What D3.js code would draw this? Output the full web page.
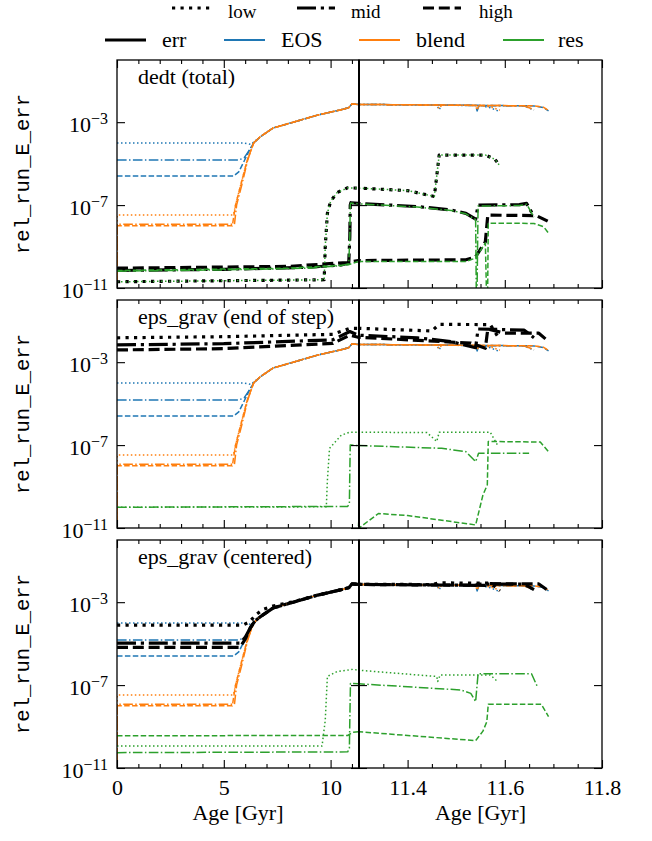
<!DOCTYPE html>
<html><head><meta charset="utf-8">
<script src="https://cdn.jsdelivr.net/npm/d3@7"></script>
<style>body{margin:0;background:#fff}
.serif{font-family:"Liberation Serif","Times New Roman",serif}
.mono{font-family:"Liberation Mono","Courier New",monospace}
</style></head>
<body><svg id="c" width="652" height="841"></svg>
<script>
// ---------- DATA: [age Gyr, rel_run_E_err] ----------
const levels = ["low", "mid", "high"];
const kinds = ["err", "EOS", "blend", "res"];
const xTicksLeft = [0, 5, 10];
const xTicksRight = [11.4, 11.6, 11.8];
const xMinorLeft = [1, 2, 3, 4, 6, 7, 8, 9, 11];
const xMinorRight = [11.35, 11.45, 11.5, 11.55, 11.65, 11.7, 11.75];
const yTicks = [1e-11, 1e-7, 1e-3];
const titles = ["dedt (total)", "eps_grav (end of step)", "eps_grav (centered)"];

// EOS and blend components (same in all three panels)
const eos_low = [[0,1e-4],[5.9,1e-4],[6.25,8.5e-5],[6.45,1.2e-4],[6.7,1.95e-4],[7.3,5.2e-4],[8.25,1e-3],[9.4,2.2e-3],[10.45,3.9e-3],[10.85,5e-3],[11.0,7.6e-3],[11.3,7.2e-3],[11.4,6.9e-3],[11.46,6.7e-3],[11.465,4e-3],[11.47,6.6e-3],[11.55,6.3e-3],[11.57,5e-3],[11.59,3.2e-3]];
const eos_mid = [[0,1.5e-5],[5.7,1.5e-5],[5.95,1.9e-5],[6.2,4.5e-5],[6.4,1e-4],[6.7,1.95e-4],[7.3,5.2e-4],[8.25,1e-3],[9.4,2.2e-3],[10.45,3.9e-3],[10.85,5e-3],[11.0,7.6e-3],[11.3,7.2e-3],[11.4,6.9e-3],[11.5,6.6e-3],[11.54,6.4e-3],[11.543,3.5e-3],[11.547,6.3e-3],[11.64,6.1e-3],[11.66,3.8e-3]];
const eos_high = [[0,2.5e-6],[5.45,2.5e-6],[5.7,4e-6],[5.95,1.3e-5],[6.2,4.5e-5],[6.4,1e-4],[6.7,1.95e-4],[7.3,5.2e-4],[8.25,1e-3],[9.4,2.2e-3],[10.45,3.9e-3],[10.85,5e-3],[11.0,7.6e-3],[11.3,7.2e-3],[11.4,6.9e-3],[11.5,6.6e-3],[11.6,6.3e-3],[11.66,6.1e-3],[11.68,5e-3],[11.69,3.5e-3]];
const blend_low = [[0,1e-13],[0.01,3.3e-8],[5.45,3.3e-8],[5.55,1e-7],[5.8,1e-6],[6.1,1.5e-5],[6.4,1e-4],[6.7,1.95e-4],[7.3,5.2e-4],[8.25,1e-3],[9.4,2.2e-3],[10.45,3.9e-3],[10.85,5e-3],[11.0,7.6e-3],[11.3,7.2e-3],[11.4,6.9e-3],[11.46,6.7e-3],[11.465,4.5e-3],[11.47,6.6e-3],[11.55,6.4e-3],[11.57,5.5e-3],[11.59,3.8e-3]];
const blend_mid = [[0,1e-13],[0.01,1.2e-8],[5.5,1.2e-8],[5.6,1e-7],[5.85,1e-6],[6.12,1.5e-5],[6.4,1e-4],[6.7,1.95e-4],[7.3,5.2e-4],[8.25,1e-3],[9.4,2.2e-3],[10.45,3.9e-3],[10.85,5e-3],[11.0,7.6e-3],[11.3,7.2e-3],[11.4,6.9e-3],[11.5,6.6e-3],[11.54,6.4e-3],[11.543,3.8e-3],[11.547,6.4e-3],[11.64,6.2e-3],[11.66,4e-3]];
const blend_high = [[0,1e-13],[0.01,1e-8],[5.4,1e-8],[5.55,1e-7],[5.8,1e-6],[6.1,1.5e-5],[6.4,1e-4],[6.7,1.95e-4],[7.3,5.2e-4],[8.25,1e-3],[9.4,2.2e-3],[10.45,3.9e-3],[10.85,5e-3],[11.0,7.6e-3],[11.3,7.2e-3],[11.4,6.9e-3],[11.5,6.6e-3],[11.6,6.3e-3],[11.66,6.2e-3],[11.68,5.2e-3],[11.69,3.6e-3]];

// Panel 1: dedt (total)
const errD_low = [[0,2e-11],[9.7,2.5e-11],[9.75,1e-9],[9.85,4e-8],[10.0,1.5e-7],[10.3,4e-7],[10.8,6.8e-7],[11.3,6.6e-7],[11.4,5e-7],[11.455,2.6e-7],[11.465,2.6e-5],[11.56,2.6e-5],[11.58,1.6e-5],[11.59,7.7e-6]];
const errD_mid = [[0,7e-11],[5,8e-11],[9,1e-10],[10.5,1.3e-10],[10.85,1.6e-10],[10.9,3e-9],[10.92,1e-7],[10.95,1.3e-7],[11.3,1.2e-7],[11.42,8.5e-8],[11.49,5.8e-8],[11.52,4e-8],[11.54,2.1e-8],[11.545,1e-7],[11.63,1.05e-7],[11.645,1.2e-7],[11.66,2.8e-8]];
const errD_high = [[0,9e-11],[8,1.1e-10],[10.8,1.7e-10],[11.3,2.1e-10],[11.52,2.3e-10],[11.54,3.2e-10],[11.56,1.7e-9],[11.565,3.3e-8],[11.665,3.1e-8],[11.69,1.6e-8]];
const resD_low = [[0,2e-11],[9.7,2.5e-11],[9.75,1e-9],[9.85,4e-8],[10.0,1.5e-7],[10.3,4e-7],[10.8,6.8e-7],[11.3,6.6e-7],[11.4,5e-7],[11.455,2.6e-7],[11.465,2.6e-5],[11.56,2.6e-5],[11.58,1.6e-5],[11.59,7.7e-6]];
const resD_mid = [[0,6.5e-11],[5,7.5e-11],[9,9e-11],[10.5,1.2e-10],[10.85,1.5e-10],[10.9,3e-9],[10.92,1e-7],[10.95,1.25e-7],[11.3,1.15e-7],[11.42,8e-8],[11.49,5.5e-8],[11.52,3.8e-8],[11.54,2e-8],[11.542,1e-13],[11.545,9e-8],[11.63,9.5e-8],[11.645,1.1e-7],[11.66,2.6e-8]];
const resD_high = [[0,7e-11],[8,9e-11],[10.8,1.3e-10],[11.3,1.9e-10],[11.52,1.9e-10],[11.54,2.8e-10],[11.56,1.5e-9],[11.564,1e-13],[11.566,1.35e-8],[11.66,1.3e-8],[11.68,9e-9],[11.69,4.4e-9]];

// Panel 2: eps_grav (end of step)
const errE_low = [[0,1.5e-2],[5,1.7e-2],[10.1,2.2e-2],[10.9,4.3e-2],[11.3,4.3e-2],[11.45,3.2e-2],[11.465,6.7e-2],[11.57,6.5e-2],[11.59,1.2e-2]];
const errE_mid = [[0,6.8e-3],[5,7.8e-3],[10.1,1.2e-2],[10.9,3e-2],[11.3,2e-2],[11.42,1.5e-2],[11.49,9.8e-3],[11.54,5e-3],[11.545,4e-2],[11.64,3.5e-2],[11.66,1.5e-2]];
const errE_high = [[0,3.9e-3],[5,4.5e-3],[10.1,8e-3],[10.9,2e-2],[11.3,1.6e-2],[11.53,8.3e-3],[11.56,4.7e-3],[11.565,4e-2],[11.6,2.5e-2],[11.67,2.5e-2],[11.69,1e-2]];
const resE_low = [[0,1e-10],[9.8,1.05e-10],[9.85,2e-9],[9.95,7e-8],[10.5,3e-7],[10.9,4.2e-7],[11.3,4.2e-7],[11.44,4e-7],[11.46,1.5e-7],[11.465,4.2e-7],[11.57,4.2e-7],[11.585,1e-7]];
const resE_mid = [[0,1e-10],[10.8,1.1e-10],[10.88,1.5e-10],[10.9,5e-9],[10.92,1e-7],[10.95,1e-7],[11.3,9.5e-8],[11.47,7e-8],[11.52,4.8e-8],[11.54,1.6e-8],[11.546,4e-8],[11.65,4e-8]];
const resE_high = [[0,1e-13],[11.28,1e-13],[11.3,1e-11],[11.34,5e-11],[11.4,4e-11],[11.54,1.4e-11],[11.555,3.9e-10],[11.564,1.2e-9],[11.566,1.5e-7],[11.673,1.4e-7],[11.69,4.8e-8]];

// Panel 3: eps_grav (centered)
const errC_low = [[0,7.9e-5],[5.9,7.9e-5],[6.2,1.1e-4],[6.5,2.5e-4],[6.85,4.5e-4],[7.3,6.5e-4],[8.25,1.05e-3],[9.4,2.2e-3],[10.45,3.9e-3],[10.85,5e-3],[11.0,7.6e-3],[11.3,7.3e-3],[11.45,7.1e-3],[11.465,8.5e-3],[11.57,8.3e-3],[11.585,4.5e-3],[11.59,3.5e-3]];
const errC_mid = [[0,1.05e-5],[5.75,1.05e-5],[6.0,2e-5],[6.25,6e-5],[6.45,1.2e-4],[6.7,1.95e-4],[7.3,5.2e-4],[8.25,1e-3],[9.4,2.2e-3],[10.45,3.9e-3],[10.85,5e-3],[11.0,7.6e-3],[11.3,7.2e-3],[11.54,6.5e-3],[11.545,7.5e-3],[11.64,7.4e-3],[11.66,4e-3]];
const errC_high = [[0,6.6e-6],[5.75,6.6e-6],[6.0,1.6e-5],[6.25,6e-5],[6.45,1.2e-4],[6.7,1.95e-4],[7.3,5.2e-4],[8.25,1e-3],[9.4,2.2e-3],[10.45,3.9e-3],[10.85,5e-3],[11.0,7.6e-3],[11.3,7.2e-3],[11.56,6.5e-3],[11.565,7.8e-3],[11.67,7.6e-3],[11.69,3.5e-3]];
const resC_low = [[0,1.15e-10],[9.6,1.15e-10],[9.75,2e-9],[9.85,2.6e-7],[10.3,4.5e-7],[11.07,5.8e-7],[11.3,5.2e-7],[11.46,2.6e-7],[11.462,1.5e-7],[11.467,3.1e-7],[11.57,3.1e-7],[11.585,1.5e-7]];
const resC_mid = [[0,5.5e-11],[10.8,6e-11],[10.88,9e-11],[10.9,2e-9],[10.93,1.2e-7],[11.3,1.15e-7],[11.51,5.8e-8],[11.53,4e-8],[11.54,1.6e-8],[11.545,3.5e-7],[11.655,3.5e-7],[11.667,8.4e-8]];
const resC_high = [[0,3.6e-10],[10.8,3.7e-10],[11.05,5.3e-10],[11.3,5.6e-10],[11.54,2.1e-10],[11.555,6e-10],[11.563,1.7e-9],[11.566,1.2e-8],[11.675,1.2e-8],[11.69,3e-9]];

// ---------- LAYOUT ----------
const svg = d3.select("#c");
const PH = 228;
const panelTops = [60, 300, 540];
const xL = d3.scaleLinear().domain([0, 11.33]).range([117, 359]);
const xR = d3.scaleLinear().domain([11.3, 11.8]).range([359, 602]);
const colors = {err: "#000000", EOS: "#1f77b4", blend: "#ff7f0e", res: "#2ca02c"};
const dashThin = {low: "1.5,2.5", mid: "9.6,2.4,1.5,2.4", high: "5.5,2.4"};
const dashThick = {low: "3.2,5.3", mid: "19,4.8,3.2,4.8", high: "11,4.8"};
const FS = 22;

const panelData = [
  {err: [errD_low, errD_mid, errD_high], res: [resD_low, resD_mid, resD_high]},
  {err: [errE_low, errE_mid, errE_high], res: [resE_low, resE_mid, resE_high]},
  {err: [errC_low, errC_mid, errC_high], res: [resC_low, resC_mid, resC_high]}
];
const eosSet = [eos_low, eos_mid, eos_high];
const blendSet = [blend_low, blend_mid, blend_high];

function serifText(sel) { return sel.attr("class", "serif").attr("font-size", FS).attr("fill", "#000"); }

panelData.forEach((p, pi) => {
  const top = panelTops[pi];
  const y = d3.scaleLog().domain([1e-11, 1]).range([top + PH, top]);
  [[xL, "L", xTicksLeft, xMinorLeft], [xR, "R", xTicksRight, xMinorRight]].forEach(([x, side, maj, minr]) => {
    const [x0, x1] = x.range();
    const id = "clip" + pi + side;
    svg.append("clipPath").attr("id", id).append("rect")
      .attr("x", x0).attr("y", top).attr("width", x1 - x0).attr("height", PH);
    const g = svg.append("g").attr("clip-path", `url(#${id})`);
    const line = d3.line().x(d => x(d[0])).y(d => y(d[1]));
    const order = [["EOS", eosSet], ["blend", blendSet], ["err", p.err], ["res", p.res]];
    order.forEach(([k, set]) => {
      set.forEach((data, li) => {
        const thick = k === "err";
        g.append("path").datum(data).attr("d", line)
          .attr("fill", "none").attr("stroke", colors[k])
          .attr("stroke-width", thick ? 3.2 : 1.5)
          .attr("stroke-dasharray", thick ? dashThick[levels[li]] : dashThin[levels[li]])
          .attr("stroke-linecap", "butt").attr("stroke-linejoin", "round");
      });
    });
    // ticks
    const styleAxis = sel => { sel.select(".domain").remove(); sel.selectAll("line").attr("stroke", "#000").attr("stroke-width", 1.1); };
    const bottom = svg.append("g").attr("transform", `translate(0,${top + PH})`)
      .call(d3.axisBottom(x).tickValues(maj).tickSizeInner(-8).tickSizeOuter(0).tickPadding(12)
        .tickFormat(pi === 2 ? (d => d3.format(side === "L" ? "d" : ".1f")(d)) : (() => "")));
    styleAxis(bottom);
    bottom.selectAll("text").each(function() { serifText(d3.select(this)); }).attr("dy", "0.7em");
    styleAxis(svg.append("g").attr("transform", `translate(0,${top + PH})`)
      .call(d3.axisBottom(x).tickValues(minr).tickSizeInner(-4).tickSizeOuter(0).tickFormat(() => "")));
    styleAxis(svg.append("g").attr("transform", `translate(0,${top})`)
      .call(d3.axisTop(x).tickValues(maj).tickSizeInner(-8).tickSizeOuter(0).tickFormat(() => "")));
    styleAxis(svg.append("g").attr("transform", `translate(0,${top})`)
      .call(d3.axisTop(x).tickValues(minr).tickSizeInner(-4).tickSizeOuter(0).tickFormat(() => "")));
    const leftAx = svg.append("g").attr("transform", `translate(${x0},0)`)
      .call(d3.axisLeft(y).tickValues(yTicks).tickSizeInner(-8).tickSizeOuter(0).tickPadding(9)
        .tickFormat(() => ""));
    styleAxis(leftAx);
    if (side === "L") {
      leftAx.selectAll(".tick text").each(function(d) {
        const t = serifText(d3.select(this)).attr("text-anchor", "end").attr("dy", "0.42em");
        t.text("10");
        t.append("tspan").attr("dy", "-0.5em").attr("font-size", 16).text("\u2212" + Math.round(-Math.log10(d)));
      });
    }
    styleAxis(svg.append("g").attr("transform", `translate(${x1},0)`)
      .call(d3.axisRight(y).tickValues(yTicks).tickSizeInner(-8).tickSizeOuter(0).tickFormat(() => "")));
    // frame
    svg.append("rect").attr("x", x0).attr("y", top).attr("width", x1 - x0).attr("height", PH)
      .attr("fill", "none").attr("stroke", "#000").attr("stroke-width", 1.3);
  });
  // divider
  svg.append("line").attr("x1", 359).attr("x2", 359).attr("y1", top).attr("y2", top + PH)
    .attr("stroke", "#000").attr("stroke-width", 2);
  // title
  serifText(svg.append("text")).attr("x", 138).attr("y", top + 24).text(titles[pi]);
  // y label
  svg.append("text").attr("transform", `translate(29,${top + PH / 2}) rotate(-90)`)
    .attr("text-anchor", "middle").attr("class", "mono").attr("font-size", 20.5)
    .text("rel_run_E_err");
});

// x labels
[xL, xR].forEach(x => {
  const [a, b] = x.range();
  serifText(svg.append("text")).attr("x", (a + b) / 2).attr("y", 820).attr("text-anchor", "middle").text("Age [Gyr]");
});

// ---------- LEGEND ----------
const legRow1 = [[172, 228, "low"], [297, 351, "mid"], [423, 479, "high"]];
legRow1.forEach(([lx, tx, lv]) => {
  svg.append("line").attr("x1", lx).attr("x2", lx + 38).attr("y1", 8).attr("y2", 8)
    .attr("stroke", "#000").attr("stroke-width", 3.2).attr("stroke-dasharray", dashThick[lv]);
  serifText(svg.append("text")).attr("x", tx).attr("y", 18).attr("font-size", 19).text(lv);
});
const legRow2 = [[105, 162, "err"], [224, 281, "EOS"], [359, 416, "blend"], [503, 558, "res"]];
legRow2.forEach(([lx, tx, k]) => {
  svg.append("line").attr("x1", lx).attr("x2", lx + 41).attr("y1", 40).attr("y2", 40)
    .attr("stroke", colors[k]).attr("stroke-width", k === "err" ? 3.2 : 2);
  serifText(svg.append("text")).attr("x", tx).attr("y", 47).text(k);
});
</script></body></html>
